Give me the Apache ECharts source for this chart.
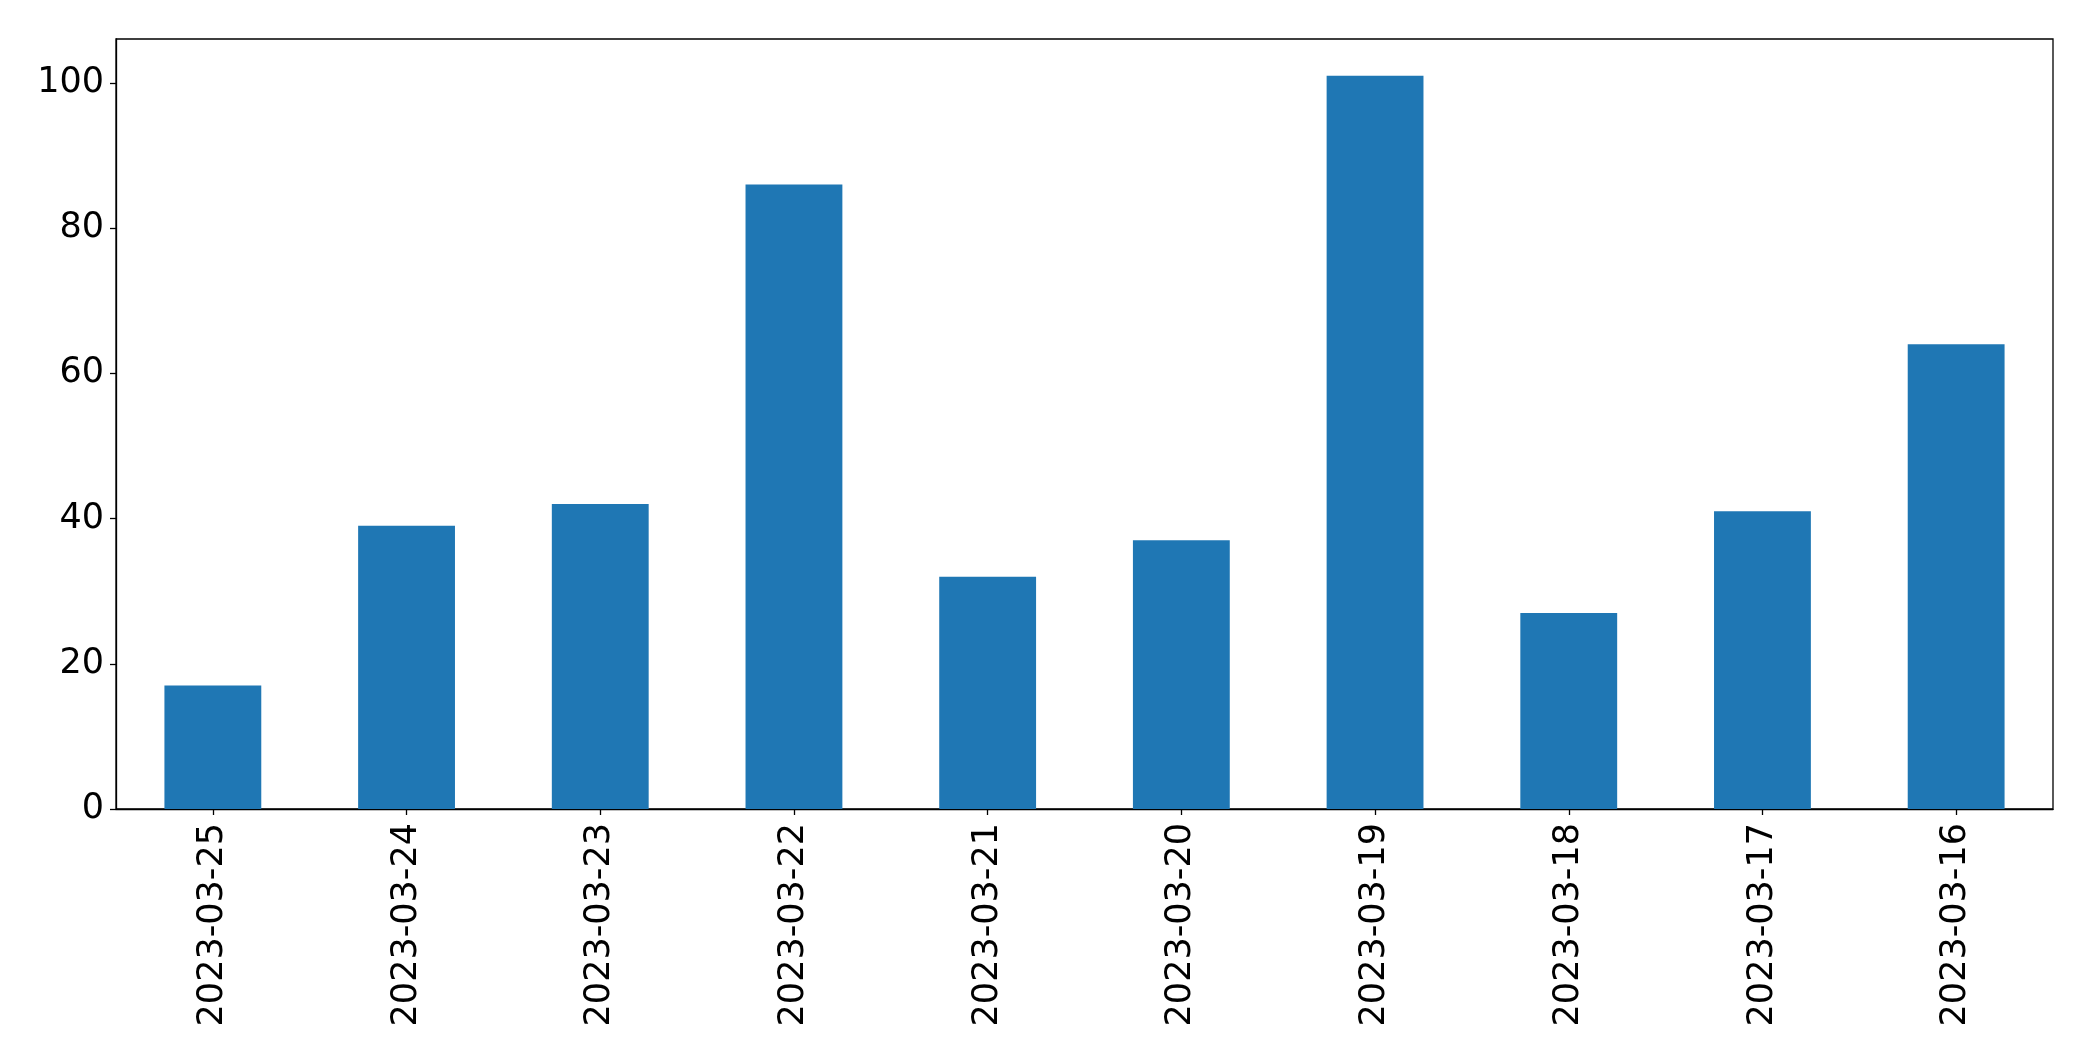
<!DOCTYPE html>
<html>
<head>
<meta charset="utf-8">
<script src="https://cdn.jsdelivr.net/npm/echarts@6/dist/echarts.min.js"></script>
<style>html,body{margin:0;padding:0;background:#fff;}#c{width:2093px;height:1061px;}</style>
</head>
<body>
<div id="c"></div>
<script>
const categories = ['2023-03-25','2023-03-24','2023-03-23','2023-03-22','2023-03-21','2023-03-20','2023-03-19','2023-03-18','2023-03-17','2023-03-16'];
const values = [17, 39, 42, 86, 32, 37, 101, 27, 41, 64];
const yTicks = [0, 20, 40, 60, 80, 100];

const chart = echarts.init(document.getElementById('c'));
const font = 'DejaVu Sans';
chart.setOption({
  animation: false,
  backgroundColor: '#ffffff',
  grid: { left: 116, top: 39, right: 40, bottom: 252, show: true, borderColor: '#000', borderWidth: 1.3, backgroundColor: 'transparent' },
  xAxis: {
    type: 'category',
    data: categories,
    axisLine: { show: true, lineStyle: { color: '#000', width: 1.3 } },
    axisTick: { show: true, alignWithLabel: true, length: 6, lineStyle: { color: '#000', width: 1.3 } },
    axisLabel: { rotate: 90, margin: 14, color: '#000', fontFamily: font, fontSize: 35, interval: 0 },
    splitLine: { show: false }
  },
  yAxis: {
    type: 'value',
    min: 0,
    max: 106.05,
    interval: 20,
    axisLine: { show: true, lineStyle: { color: '#000', width: 1.3 } },
    axisTick: { show: true, length: 6, lineStyle: { color: '#000', width: 1.3 }, customValues: yTicks },
    axisLabel: { margin: 12, color: '#000', fontFamily: font, fontSize: 35, customValues: yTicks,
      formatter: v => (v % 20 === 0 ? String(v) : '') },
    splitLine: { show: false }
  },
  series: [{
    type: 'bar',
    data: values,
    barWidth: '50%',
    itemStyle: { color: '#1f77b4' }
  }]
});
</script>
</body>
</html>
